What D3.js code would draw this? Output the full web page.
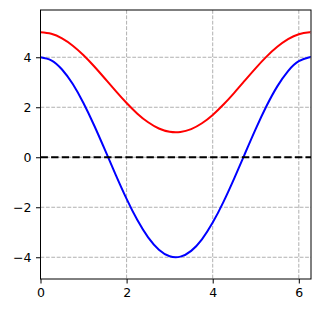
<!DOCTYPE html>
<html><head><meta charset="utf-8">
<script src="https://cdn.jsdelivr.net/npm/d3@7"></script>
<style>body{margin:0;background:#fff}svg{display:block}text{font-family:"DejaVu Sans";}</style>
</head><body>
<script>
const xs = [0,0.25,0.5,0.75,1,1.25,1.5,1.75,2,2.25,2.5,2.75,3,3.25,3.5,3.75,4,4.25,4.5,4.75,5,5.25,5.5,5.75,6,6.25,6.2832];
const blueY = [4,3.876,3.510,2.927,2.161,1.261,0.283,-0.713,-1.664,-2.513,-3.204,-3.697,-3.960,-3.976,-3.746,-3.282,-2.614,-1.784,-0.843,0.150,1.135,2.048,2.835,3.445,3.841,3.998,4];
const redY = [5,4.938,4.755,4.463,4.081,3.631,3.141,2.644,2.168,1.744,1.398,1.151,1.020,1.012,1.127,1.359,1.693,2.108,2.578,3.075,3.567,4.024,4.417,4.722,4.920,4.999,5];
const xTicks = [0,2,4,6];
const yTicks = [-4,-2,0,2,4];
const xDomain = [0,6.2832];
const yDomain = [-4.87,5.89];

const W=321,H=313, L=40.5, T=10, R=311, B=279;
const svg=d3.select("body").append("svg").attr("width",W).attr("height",H);
const x=d3.scaleLinear().domain(xDomain).range([L,R]);
const y=d3.scaleLinear().domain(yDomain).range([B,T]);

const g=svg.append("g");
// grid
g.selectAll(".gx").data(xTicks).join("line").attr("x1",d=>x(d)).attr("x2",d=>x(d)).attr("y1",T).attr("y2",B)
 .attr("stroke","#b0b0b0").attr("stroke-width",1).attr("stroke-dasharray","3.8,1.6");
g.selectAll(".gy").data(yTicks).join("line").attr("y1",d=>y(d)).attr("y2",d=>y(d)).attr("x1",L).attr("x2",R)
 .attr("stroke","#b0b0b0").attr("stroke-width",1).attr("stroke-dasharray","3.8,1.6");

const clip=svg.append("clipPath").attr("id","c").append("rect").attr("x",L).attr("y",T).attr("width",R-L).attr("height",B-T);
const pts=(ys)=>xs.map((v,i)=>[v,ys[i]]);
const line=d3.line().x(d=>x(d[0])).y(d=>y(d[1])).curve(d3.curveNatural);
const pg=svg.append("g").attr("clip-path","url(#c)");
pg.append("path").attr("d",line(pts(redY))).attr("fill","none").attr("stroke","#ff0000").attr("stroke-width",2);
pg.append("path").attr("d",line(pts(blueY))).attr("fill","none").attr("stroke","#0000ff").attr("stroke-width",2);
pg.append("line").attr("x1",L).attr("x2",R).attr("y1",y(0)).attr("y2",y(0))
 .attr("stroke","#000").attr("stroke-width",2).attr("stroke-dasharray","7.4,3.2");

// axes
const fmt=d=>d<0?"\u2212"+Math.abs(d):String(d);
const xa=svg.append("g").attr("transform",`translate(0,${B})`).call(d3.axisBottom(x).tickValues(xTicks).tickFormat(fmt).tickSize(4.5).tickPadding(4.5));
const ya=svg.append("g").attr("transform",`translate(${L},0)`).call(d3.axisLeft(y).tickValues(yTicks).tickFormat(fmt).tickSize(4.5).tickPadding(4.5));
[xa,ya].forEach(a=>{a.select(".domain").remove();a.selectAll("line").attr("stroke","#000").attr("stroke-width",1);
 a.selectAll("text").attr("font-family","DejaVu Sans").attr("font-size",12.5).attr("fill","#000");});
svg.append("rect").attr("x",L).attr("y",T).attr("width",R-L).attr("height",B-T).attr("fill","none").attr("stroke","#000").attr("stroke-width",1);
</script>
</body></html>
